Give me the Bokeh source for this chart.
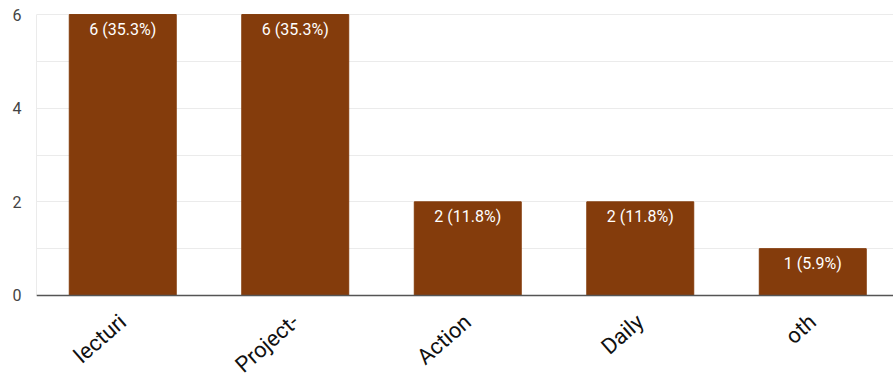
from bokeh.plotting import figure
from bokeh.models import ColumnDataSource, FixedTicker, Range1d, Span
from bokeh.core.properties import value
from bokeh.embed import file_html
from bokeh.resources import INLINE

# Responses per option
categories = ["lecturi", "Project-", "Action", "Daily", "oth"]
counts = [6, 6, 2, 2, 1]
y_ticks = [0, 2, 4, 6]
y_minor_ticks = [1, 3, 5]

total = sum(counts)
positions = list(range(len(categories)))
labels = [f"{c} ({c / total * 100:.1f}%)" for c in counts]

src = ColumnDataSource(dict(x=positions, top=counts, base=[0] * len(counts),
                            label=labels, name=categories))

# the frame runs to the bottom edge; the space under 0 holds the category names
p = figure(
    width=893, height=379,
    output_backend="svg", toolbar_location=None,
    x_range=Range1d(-0.5, 4.468), y_range=Range1d(-1.794, 6.129),
    min_border_left=36, min_border_right=0,
    min_border_top=8, min_border_bottom=0,
)
p.outline_line_color = None
p.background_fill_color = "white"
p.border_fill_color = "white"
p.xaxis.visible = False
p.xgrid.grid_line_color = None

p.vbar(x="x", bottom="base", top="top", width=0.62, source=src,
       fill_color="#843c0c", line_color="#843c0c")

# count and share printed inside the top of each bar
p.text(x="x", y="top", text="label", source=src,
       text_color="white", text_align="center", text_baseline="top",
       y_offset=5, text_font=value("Roboto"), text_font_size="16px")

# baseline at zero
p.add_layout(Span(location=0, dimension="width",
                  line_color="#555555", line_width=1.5))

# slanted category names under the bars
p.text(x="x", y="base", text="name", source=src,
       angle=0.72, text_align="right", text_baseline="alphabetic",
       x_offset=0, y_offset=23,
       text_font=value("Roboto"), text_font_size="22px",
       text_color="#111111")

# y axis: counts
p.yaxis.ticker = FixedTicker(ticks=y_ticks, minor_ticks=y_minor_ticks)
p.yaxis.bounds = (0, 6)
p.yaxis.axis_line_color = "#ebebeb"
p.yaxis.major_tick_line_color = None
p.yaxis.minor_tick_line_color = None
p.yaxis.major_label_standoff = 9
p.yaxis.major_label_text_font = "Roboto"
p.yaxis.major_label_text_font_size = "16px"
p.yaxis.major_label_text_color = "#444444"
p.ygrid.grid_line_color = "#ebebeb"
p.ygrid.minor_grid_line_color = "#ebebeb"
p.ygrid.bounds = (0, 6)

open("out.html", "w").write(file_html(p, INLINE))
